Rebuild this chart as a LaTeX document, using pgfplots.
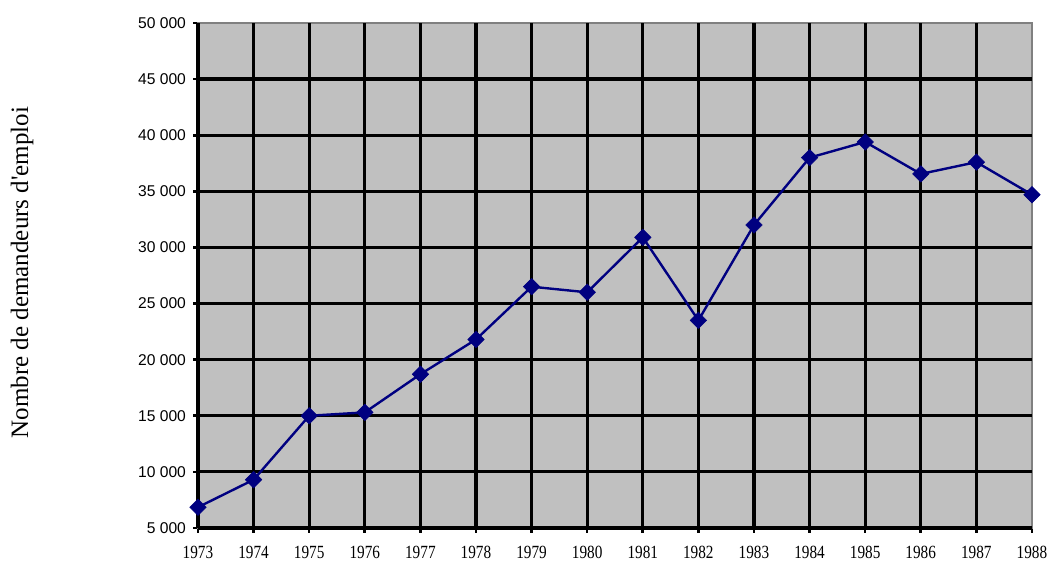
\documentclass[border=0pt]{standalone}
\usepackage{pgfplots}
\pgfplotsset{compat=1.18}
\usepackage{fontspec}
\setmainfont{Liberation Serif}
\newfontfamily\arial{Liberation Sans}
\definecolor{plotbg}{HTML}{C0C0C0}
\definecolor{navyline}{HTML}{000080}
\begin{document}
\begin{tikzpicture}
\begin{axis}[name=ax, scale only axis, width=417pt, height=252.5pt,
 xmin=1973, xmax=1988, ymin=5000, ymax=50000,
 xtick={1973,...,1988}, ytick={5000,10000,...,50000},
 extra x ticks={1973,...,1987}, extra y ticks={5000,10000,...,45000},
 extra x tick labels={}, extra y tick labels={},
 extra tick style={grid=major, major tick length=0pt},
 major grid style={black, line width=1.6pt},
 axis line style={draw=gray, line width=1pt},
 tick align=outside, tick pos=left, major tick length=2.5pt,
 tick style={black, line width=1.3pt},
 axis background/.style={fill=plotbg},
 scaled ticks=false,
 xticklabel style={font=\fontsize{9.3}{10}\selectfont, xscale=0.82, yshift=-3pt,
   /pgf/number format/assume math mode=true, /pgf/number format/1000 sep={}},
 yticklabel style={font=\arial\fontsize{7.8}{9}\selectfont,
   /pgf/number format/assume math mode=true, /pgf/number format/1000 sep={\ }},
 ylabel={Nombre de demandeurs d\textquotesingle emploi},
 ylabel style={at={(axis description cs:-0.211,0.506)}, anchor=center, font=\fontsize{12.5}{14}\selectfont},
]
\addplot[navyline, line width=1.2pt, mark=square*, mark size=2.9pt,
  mark options={rotate=45, fill=navyline, draw=navyline, line width=0.3pt}]
coordinates {
(1973,6850) (1974,9300) (1975,15000) (1976,15300) (1977,18700) (1978,21800)
(1979,26500) (1980,26000) (1981,30900) (1982,23500) (1983,32000) (1984,38000)
(1985,39400) (1986,36550) (1987,37600) (1988,34700)
};
\end{axis}
\pgfresetboundingbox
\path ([xshift=-99pt,yshift=-17pt]ax.south west) rectangle ([xshift=8pt,yshift=11.5pt]ax.north east);
\end{tikzpicture}
\end{document}
